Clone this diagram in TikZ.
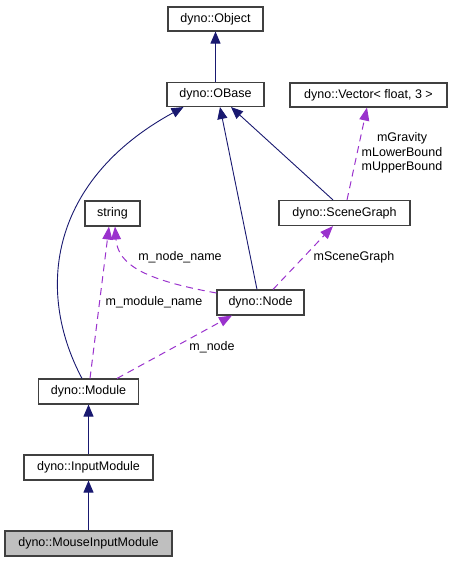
\documentclass[tikz,border=0pt]{standalone}
\usepackage{fontspec}
\setmainfont{Liberation Sans}
\usetikzlibrary{arrows.meta}
\definecolor{inh}{HTML}{191970}
\definecolor{use}{HTML}{9A32CD}
\definecolor{boxline}{HTML}{404040}
\begin{document}
\begin{tikzpicture}[x=1bp,y=-1bp,
  font=\fontsize{12.5bp}{14.5bp}\selectfont,
  cls/.style={draw=boxline,line width=1.1bp,fill=white,inner sep=0pt,minimum height=25bp},
  inhedge/.style={draw=inh,line width=0.9bp,-{Triangle[length=12bp,width=10bp]},color=inh},
  useedge/.style={draw=use,line width=1bp,dash pattern=on 7bp off 5bp,-{Triangle[length=13bp,width=10bp]},color=use},
  lbl/.style={inner sep=0pt,text=black}]
\useasboundingbox (0,0) rectangle (455,563);
\node[cls,minimum width=95bp,minimum height=24bp] (object) at (215.5,19) {dyno::Object};
\node[cls,minimum width=97bp,minimum height=24bp] (obase) at (215.5,94.5) {dyno::OBase};
\node[cls,minimum width=157bp,minimum height=24bp] (vector) at (368.5,95) {dyno::Vector< float, 3 >};
\node[cls,minimum width=131bp] (scenegraph) at (344.5,213) {dyno::SceneGraph};
\node[cls,minimum width=55bp] (string) at (112.5,213.5) {string};
\node[cls,minimum width=87bp] (node) at (260.5,302.5) {dyno::Node};
\node[cls,minimum width=100bp] (module) at (88.5,391.5) {dyno::Module};
\node[cls,minimum width=129bp] (inputmodule) at (88.5,467.5) {dyno::InputModule};
\node[cls,minimum width=167bp,fill=black!25] (mouse) at (88.5,543.5) {dyno::MouseInputModule};
% inheritance
\draw[inhedge] (obase) -- (object);
\draw[inhedge] ([xshift=-3.5bp]node.north) -- ([xshift=4.5bp]obase.south);
\draw[inhedge] ([xshift=-11.5bp]scenegraph.north) -- ([xshift=15.5bp]obase.south);
\draw[inhedge] ([xshift=-6.5bp]module.north) .. controls (35,290) and (50,180) .. ([xshift=-32bp]obase.south);
\draw[inhedge] (inputmodule) -- (module);
\draw[inhedge] (mouse) -- (inputmodule);
% usage
\draw[useedge] ([xshift=2.5bp]scenegraph.north) -- ([xshift=-1.5bp]vector.south);
\draw[useedge] ([xshift=12.5bp]node.north) -- ([xshift=-11.5bp]scenegraph.south);
\draw[useedge] ([yshift=9.5bp]node.west) .. controls (145,280) and (118,265) .. ([xshift=2.5bp]string.south);
\draw[useedge] ([xshift=1.5bp]module.north) -- ([xshift=-3.5bp]string.south);
\draw[useedge] ([xshift=28.5bp]module.north) -- ([xshift=-28.5bp]node.south);
% labels
\node[lbl,align=center] (lblvec) at (402,153) {mGravity\\mLowerBound\\mUpperBound};
\node[lbl] (lblsg) at (354,257) {mSceneGraph};
\node[lbl] (lblnn) at (180,257) {m\_node\_name};
\node[lbl] (lblmn) at (154,302) {m\_module\_name};
\node[lbl] (lbln) at (212,347) {m\_node};
\end{tikzpicture}
\end{document}
